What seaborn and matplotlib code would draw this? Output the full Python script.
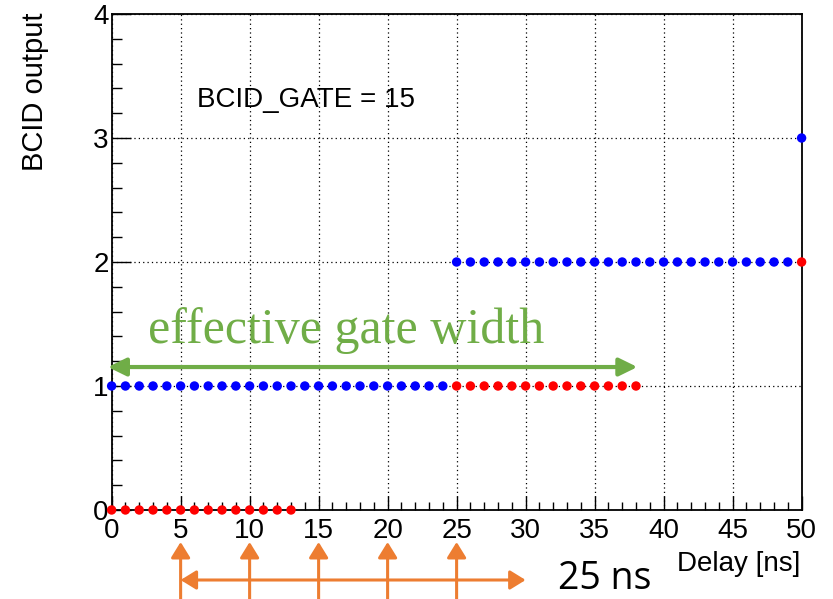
import numpy as np
import pandas as pd
import seaborn as sns
import matplotlib.pyplot as plt
from matplotlib.ticker import MultipleLocator

# BCID scan: delay [ns] vs output, two channels
blue_delay = [0, 1, 2, 3, 4, 5, 6, 7, 8, 9, 10, 11, 12, 13, 14, 15, 16, 17, 18, 19, 20, 21, 22, 23, 24,
              25, 26, 27, 28, 29, 30, 31, 32, 33, 34, 35, 36, 37, 38, 39, 40, 41, 42, 43, 44, 45, 46, 47, 48, 49,
              50]
blue_output = [1, 1, 1, 1, 1, 1, 1, 1, 1, 1, 1, 1, 1, 1, 1, 1, 1, 1, 1, 1, 1, 1, 1, 1, 1,
               2, 2, 2, 2, 2, 2, 2, 2, 2, 2, 2, 2, 2, 2, 2, 2, 2, 2, 2, 2, 2, 2, 2, 2, 2,
               3]
red_delay = [0, 1, 2, 3, 4, 5, 6, 7, 8, 9, 10, 11, 12, 13,
             25, 26, 27, 28, 29, 30, 31, 32, 33, 34, 35, 36, 37, 38,
             50]
red_output = [0, 0, 0, 0, 0, 0, 0, 0, 0, 0, 0, 0, 0, 0,
              1, 1, 1, 1, 1, 1, 1, 1, 1, 1, 1, 1, 1, 1,
              2]
clock_marks = [5, 10, 15, 20, 25]
period_start, period_end = 5, 30
gate_start, gate_end = -0.27, 38.1

df = pd.concat([
    pd.DataFrame({"delay": blue_delay, "output": blue_output, "series": "blue"}),
    pd.DataFrame({"delay": red_delay, "output": red_output, "series": "red"}),
])

sns.set_style("ticks")
plt.rcParams['font.family'] = ['Liberation Sans', 'DejaVu Sans']
plt.rcParams['text.color'] = 'black'
plt.rcParams['axes.labelcolor'] = 'black'

green = "#70AD47"
orange = "#ED7D31"

fig = plt.figure(figsize=(8.33, 5.99), dpi=100)
ax = fig.add_axes([0.134, 0.1486, 0.8283, 0.828])

sns.scatterplot(data=df, x="delay", y="output", hue="series",
                palette={"blue": "#0000FF", "red": "#FF0000"},
                s=46, linewidth=0, legend=False, ax=ax, clip_on=False, zorder=5)

ax.set_xlim(0, 50)
ax.set_ylim(0, 4)
ax.xaxis.set_major_locator(MultipleLocator(5))
ax.xaxis.set_minor_locator(MultipleLocator(1))
ax.yaxis.set_major_locator(MultipleLocator(1))
ax.yaxis.set_minor_locator(MultipleLocator(0.2))
ax.grid(True, which="major", linestyle=(0, (1, 2.5)), color="black", linewidth=0.9)

ax.tick_params(which="both", direction="in", top=False, right=False, width=1, colors="black")
ax.tick_params(axis="x", which="major", length=10, pad=6, labelsize=20)
ax.tick_params(axis="x", which="minor", length=5.5)
ax.tick_params(axis="y", which="major", length=14, pad=2, labelsize=20)
ax.tick_params(axis="y", which="minor", length=7)
for sp in ax.spines.values():
    sp.set_visible(True)
    sp.set_color("black")
    sp.set_linewidth(1.3)

ax.set_xlabel("Delay [ns]", fontsize=20, loc="right")
ax.xaxis.set_label_coords(0.998, -0.083)
ax.set_ylabel("BCID output", fontsize=21, loc="top")
ax.yaxis.set_label_coords(-0.091, 1.004)

ax.text(6.2, 3.25, "BCID_GATE = 15", fontsize=20, va="baseline", ha="left")

# effective gate width annotation
ax.text(2.63, 1.347, "effective gate width", fontsize=36, color=green,
        family=["Liberation Serif", "DejaVu Serif"], va="baseline", ha="left")
ax.annotate("", xy=(gate_end, 1.153), xytext=(gate_start, 1.153),
            arrowprops=dict(arrowstyle="<|-|>,head_length=0.55,head_width=0.27",
                            color=green, lw=3, mutation_scale=20, shrinkA=0, shrinkB=0),
            annotation_clip=False, zorder=6)

# 25 ns clock period below the axis
for xm in clock_marks:
    ax.annotate("", xy=(xm, 57), xytext=(xm, 0),
                xycoords=("data", "figure pixels"), textcoords=("data", "figure pixels"),
                arrowprops=dict(arrowstyle="-|>,head_length=0.47,head_width=0.29",
                                color=orange, lw=2.2, mutation_scale=20, shrinkA=0, shrinkB=0),
                annotation_clip=False)
ax.annotate("", xy=(period_end, 19), xytext=(period_start, 19),
            xycoords=("data", "figure pixels"), textcoords=("data", "figure pixels"),
            arrowprops=dict(arrowstyle="<|-|>,head_length=0.47,head_width=0.29",
                            color=orange, lw=2.2, mutation_scale=20, shrinkA=0, shrinkB=0),
            annotation_clip=False)
fig.text(558 / 833, 1 / 599, "25 ns", fontsize=27, family=["Open Sans", "DejaVu Sans"],
         va="bottom", ha="left")

fig.savefig("out.png", dpi=100)
